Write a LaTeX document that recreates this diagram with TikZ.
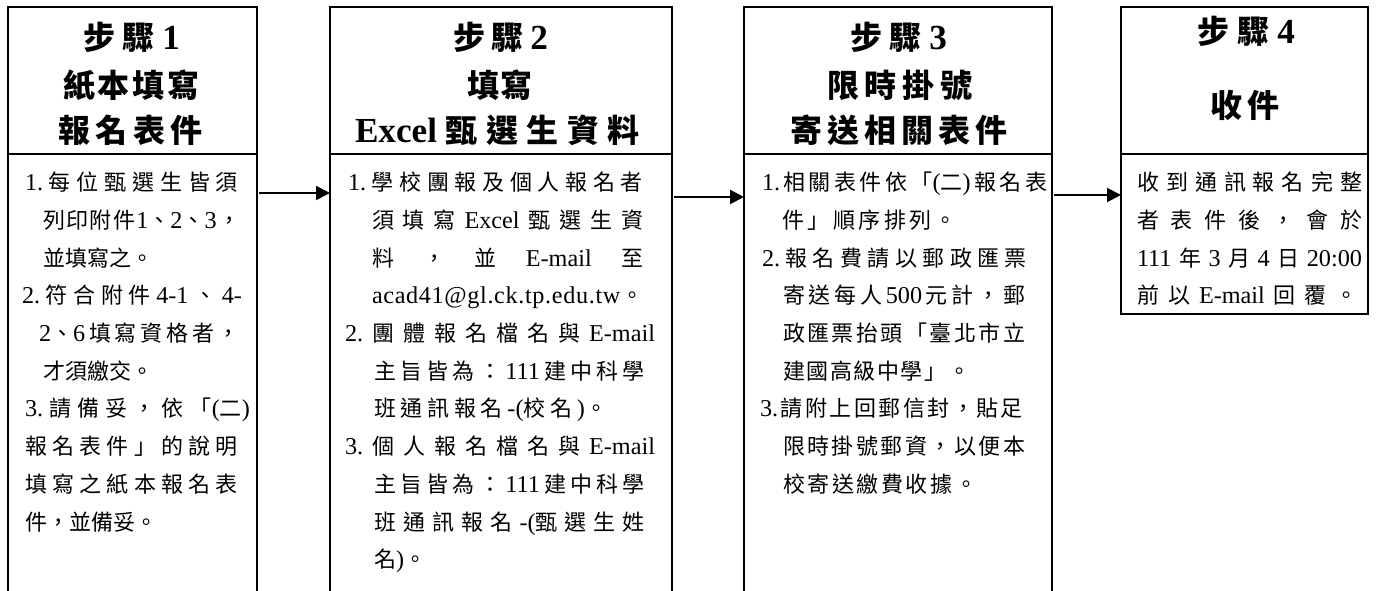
\documentclass[tikz,border=0pt]{standalone}
\usepackage{fontspec}
\setmainfont{Noto Sans CJK TC}
\newfontfamily\latfont{Liberation Serif}[Scale=1.1]
\newfontfamily\cjkfont{Noto Sans CJK TC}
\newcommand\lat[1]{{\latfont #1}}
\usetikzlibrary{arrows.meta}
\newdimen\pxu \pxu=0.75pt
\makeatletter
\def\jlstop{\jlstop}
\def\jl@stopm{\jlstop}
\def\jl@font{}
\newcommand\jl[3][]{\hbox to #2\pxu{\def\jl@font{#1}\jl@loop#3\jlstop}}
\def\jl@loop#1#2{{\jl@font#1}\def\jl@tmp{#2}\ifx\jl@tmp\jl@stopm\expandafter\@gobble\else\hfill\expandafter\@firstofone\fi{\jl@loop{#2}}}
\makeatother
\begin{document}
\begin{tikzpicture}[x=0.75pt,y=-0.75pt,
  frame/.style={draw, line width=1.5pt, inner sep=0pt, outer sep=0pt, anchor=north west},
  ln/.style={anchor=base west, inner sep=0pt, outer sep=0pt, font=\fontsize{16.5}{20}\selectfont},
  hd/.style={anchor=base west, inner sep=0pt, outer sep=0pt, font=\fontsize{24}{28}\selectfont\bfseries},
  arr/.style={line width=1.5pt, -{Triangle[length=10.5pt,width=10.5pt]}, shorten <=1.5pt}]
\useasboundingbox (0,0) rectangle (1381,591);
\fill[white] (0,0) rectangle (1381,591);
% frames
\node[frame, minimum width=249*0.75pt, minimum height=147*0.75pt] (h1) at (8,7) {};
\node[frame, minimum width=249*0.75pt, minimum height=470*0.75pt] (b1) at (8,154) {};
\node[frame, minimum width=342*0.75pt, minimum height=147*0.75pt] (h2) at (330,7) {};
\node[frame, minimum width=342*0.75pt, minimum height=470*0.75pt] (b2) at (330,154) {};
\node[frame, minimum width=308*0.75pt, minimum height=147*0.75pt] (h3) at (744,7) {};
\node[frame, minimum width=308*0.75pt, minimum height=470*0.75pt] (b3) at (744,154) {};
\node[frame, minimum width=247*0.75pt, minimum height=147*0.75pt] (h4) at (1121,7) {};
\node[frame, minimum width=247*0.75pt, minimum height=160*0.75pt] (b4) at (1121,154) {};
% arrows
\draw[arr] ([yshift=-29.25pt]b1.north east) -- ([yshift=-29.25pt]b2.north west);
\draw[arr] ([yshift=-32.25pt]b2.north east) -- ([yshift=-32.25pt]b3.north west);
\draw[arr] ([yshift=-30.75pt]b3.north east) -- ([yshift=-30.75pt]b4.north west);
% headers
\node[hd] (t1a) at (83,50) {\jl{97}{步驟{\lat{1}}}};
\node[hd] (t1b) at (63,98) {\jl{137}{紙本填寫}};
\node[hd] (t1c) at (58,143) {\jl{145}{報名表件}};
\node[hd] (t2a) at (453,50) {\jl{95}{步驟{\lat{2}}}};
\node[hd] (t2b) at (467,98) {\jl{66}{填寫}};
\node[hd] (t2c) at (355,143) {\jl{285}{{\lat{Excel}}甄選生資料}};
\node[hd] (t3a) at (850,50) {\jl{97}{步驟{\lat{3}}}};
\node[hd] (t3b) at (827,98) {\jl{145}{限時掛號}};
\node[hd] (t3c) at (790,143) {\jl{218}{寄送相關表件}};
\node[hd] (t4a) at (1197,44) {\jl{98}{步驟{\lat{4}}}};
\node[hd] (t4b) at (1210,118) {\jl{70}{收件}};
% box 1 body
\node[ln] (n11) at (25,190.7) {\jl{213}{{\lat{1.}}每位甄選生皆須}};
\node[ln] (n12) at (43,228.4) {\jl{197}{列印附件{\lat{1}、\lat{2}、\lat{3}}，}};
\node[ln] (n13) at (43,266.1) {並填寫之。};
\node[ln] (n14) at (22,303.8) {\jl{220}{{\lat{2.}}符合附件{\lat{4-1}}、{\lat{4-}}}};
\node[ln] (n15) at (39,341.5) {\jl{201}{{\lat{2}、\lat{6}}填寫資格者，}};
\node[ln] (n16) at (43,379.2) {才須繳交。};
\node[ln] (n17) at (25,416.9) {\jl{225}{{\lat{3.}}請備妥，依{「\lat{(}二\lat{)}}}};
\node[ln] (n18) at (25,454.6) {\jl{213}{報名表件」的說明}};
\node[ln] (n19) at (25,492.3) {\jl{213}{填寫之紙本報名表}};
\node[ln] (n1a) at (25,530) {件，並備妥。};
% box 2 body
\node[ln] (n21) at (348,190.7) {\jl{295}{{\lat{1.}}學校團報及個人報名者}};
\node[ln] (n22) at (372,228.4) {\jl{271}{須填寫{\lat{Excel}}甄選生資}};
\node[ln] (n23) at (372,266.1) {\jl{271}{料，並{\lat{E-mail}}至}};
\node[ln] (n24) at (372,303.8) {\jl[\latfont]{271}{acad41@gl.ck.tp.edu.tw{\cjkfont 。}}};
\node[ln] (n25) at (345,341.5) {\jl{310}{{\lat{2.}}團體報名檔名與{\lat{E-mail}}}};
\node[ln] (n26) at (374,379.2) {\jl{271}{主旨皆為：{\lat{111}}建中科學}};
\node[ln] (n27) at (374,416.9) {\jl{233}{班通訊報名{\lat{-(}校}名{\lat{)}。}}};
\node[ln] (n28) at (345,454.6) {\jl{310}{{\lat{3.}}個人報名檔名與{\lat{E-mail}}}};
\node[ln] (n29) at (374,492.3) {\jl{271}{主旨皆為：{\lat{111}}建中科學}};
\node[ln] (n2a) at (374,530) {\jl{271}{班通訊報名{\lat{-(}甄}選生姓}};
\node[ln] (n2b) at (374,567.7) {名\lat{)}。};
% box 3 body
\node[ln] (n31) at (762,190.7) {\jl{285}{{\lat{1.}}相關表件依{「\lat{(}二\lat{)}}報名表}};
\node[ln] (n32) at (782,228.4) {\jl{175}{件」順序排列。}};
\node[ln] (n33) at (762,266.1) {\jl{265}{{\lat{2.}}報名費請以郵政匯票}};
\node[ln] (n34) at (783,303.8) {\jl{242}{寄送每人{\lat{500}}元計，郵}};
\node[ln] (n35) at (783,341.5) {\jl{242}{政匯票抬頭「臺北市立}};
\node[ln] (n36) at (783,379.2) {\jl{187}{建國高級中學」。}};
\node[ln] (n37) at (760,416.9) {\jl{263}{{\lat{3.}}請附上回郵信封，貼足}};
\node[ln] (n38) at (783,454.6) {\jl{242}{限時掛號郵資，以便本}};
\node[ln] (n39) at (783,492.3) {\jl{194}{校寄送繳費收據。}};
% box 4 body
\node[ln] (n41) at (1137,190.7) {\jl{225}{收到通訊報名完整}};
\node[ln] (n42) at (1137,228.4) {\jl{225}{者表件後，會於}};
\node[ln] (n43) at (1137,266.1) {\jl{225}{{\lat{111}}年{\lat{3}}月{\lat{4}}日{\lat{20:00}}}};
\node[ln] (n44) at (1137,303.8) {\jl{221}{前以{\lat{E-mail}}回覆。}};
\end{tikzpicture}
\end{document}
